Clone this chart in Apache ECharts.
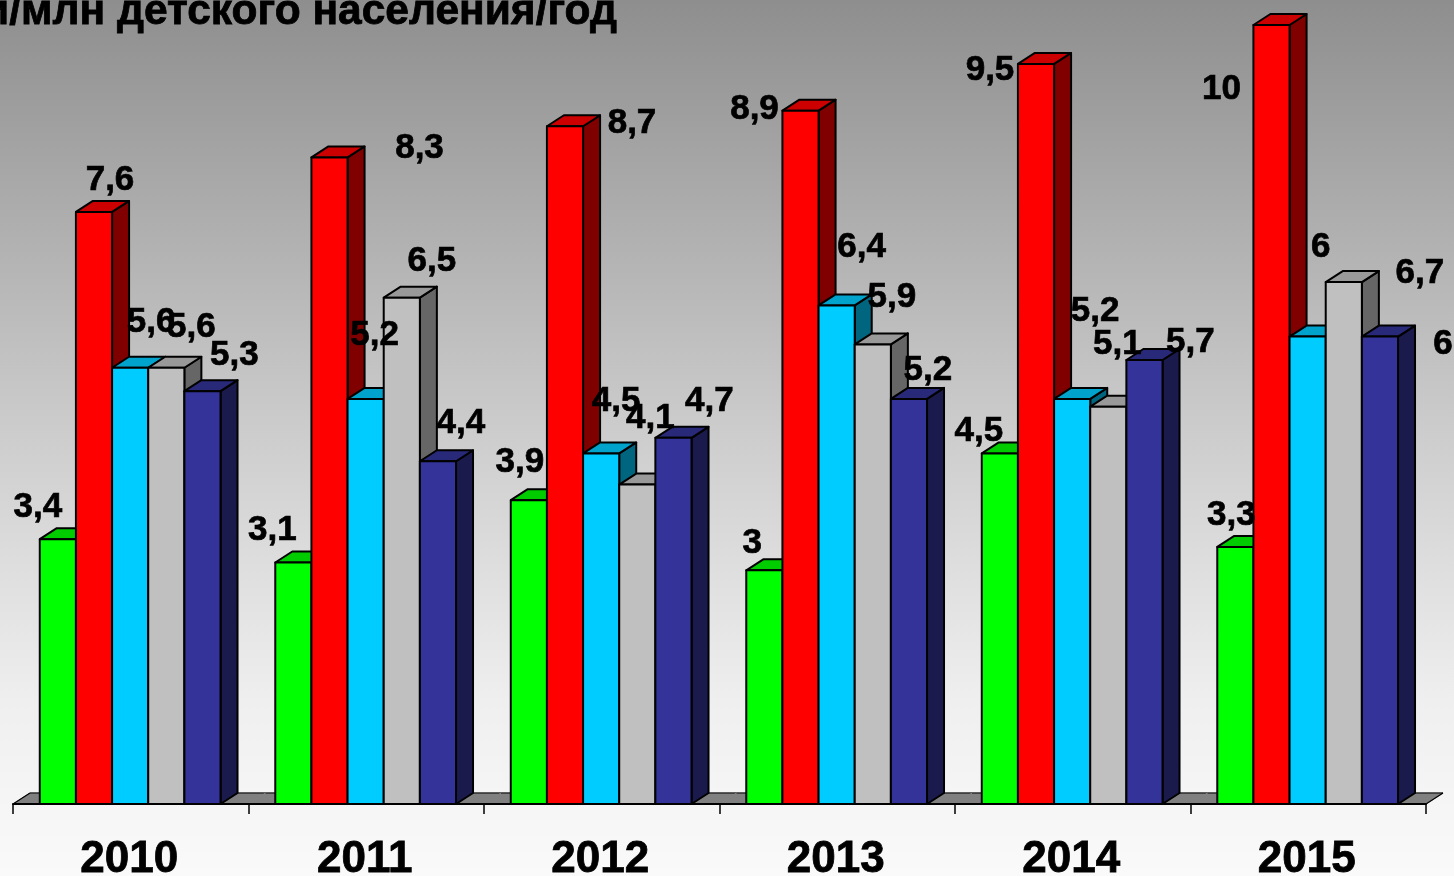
<!DOCTYPE html>
<html><head><meta charset="utf-8">
<style>html,body{margin:0;padding:0;overflow:hidden;background:#fff}#c{width:1454px;height:876px}</style>
<script src="https://cdn.jsdelivr.net/npm/echarts@6/dist/echarts.min.js"></script>
</head><body><div id="c"></div>
<script>
const categories = ['2010','2011','2012','2013','2014','2015'];
const greenValues = [3.4,3.1,3.9,3,4.5,3.3];
const redValues   = [7.6,8.3,8.7,8.9,9.5,10];
const cyanValues  = [5.6,5.2,4.5,6.4,5.2,6];
const grayValues  = [5.6,6.5,4.1,5.9,5.1,6.7];
const navyValues  = [5.3,4.4,4.7,5.2,5.7,6];
const titleText = 'случаи/млн детского населения/год';

const allValues = [greenValues,redValues,cyanValues,grayValues,navyValues];
const palettes = [
  {front:'#00ff00',top:'#00cc00',side:'#009900'},
  {front:'#ff0000',top:'#cc0000',side:'#800000'},
  {front:'#00ccff',top:'#00a3cc',side:'#006680'},
  {front:'#c0c0c0',top:'#999999',side:'#666666'},
  {front:'#333399',top:'#29297a',side:'#1a1a4d'}
];
// hand placement of each data label relative to its bar top: [dx, dy] by series then year
const labelShift = [
  [[-20,-32],[-21,-32],[-9,-38],[-12,-27],[-21,-22],[-4,-32]],
  [[16,-32],[90,-9],[67,-3],[-46,-1],[-46,6],[-50,64]],
  [[21,-45],[9,-64],[15,-52],[25,-58],[23,-88],[13,-89]],
  [[25,-40],[30,-36],[13,-66],[19,-47],[9,-62],[76,-9]],
  [[32,-36],[23,-38],[36,-37],[19,-29],[46,-18],[63,8]]
];
const DX = 17, DY = 11;
const BAR_RATIO = 0.1535;

function barGeom(api, s){
  const cat = api.value(0), v = api.value(1);
  const top = api.coord([cat, v]), base = api.coord([cat, 0]);
  const w = api.size([1,0])[0]*BAR_RATIO;
  const left = top[0] - 2.5*w + s*w - 0.6;
  return {left, w, yTop: top[1], yBase: base[1]};
}
function barSeries(s){
  const p = palettes[s];
  return {
    type:'custom', name:'s'+s, z:3, silent:true, animation:false, clip:false,
    data: allValues[s].map((v,i)=>[i,v]),
    encode:{x:0,y:1},
    renderItem(params, api){
      const g = barGeom(api,s);
      const L=g.left, R=g.left+g.w, T=g.yTop, B=g.yBase;
      const st = {stroke:'#000',lineWidth:2,lineJoin:'round'};
      return {type:'group',children:[
        {type:'polygon',shape:{points:[[R,T],[R+DX,T-DY],[R+DX,B-DY],[R,B]]},style:{...st,fill:p.side}},
        {type:'polygon',shape:{points:[[L,T],[L+DX,T-DY],[R+DX,T-DY],[R,T]]},style:{...st,fill:p.top}},
        {type:'rect',shape:{x:L,y:T,width:g.w,height:B-T},style:{...st,fill:p.front}}
      ]};
    }
  };
}
const floorSeries = {
  type:'custom', name:'floor', z:1, silent:true, animation:false, clip:false,
  data: categories.map((c,i)=>[i,0]),
  encode:{x:0,y:1},
  renderItem(params, api){
    const i = api.value(0);
    const p = api.coord([i,0]), band = api.size([1,0])[0];
    const x0=p[0]-band/2, x1=p[0]+band/2, y=p[1];
    const kids=[{type:'polygon',shape:{points:[[x0,y],[x0+DX,y-DY],[x1+DX,y-DY],[x1,y]]},style:{fill:'#808080',stroke:'#808080',lineWidth:1}},
      {type:'polyline',shape:{points:[[x0+DX,y-DY],[x1+DX,y-DY]]},style:{stroke:'#000',lineWidth:1.2,fill:null}}];
    if(i===0) kids.push({type:'polyline',shape:{points:[[x0,y],[x0+DX,y-DY]]},style:{stroke:'#000',lineWidth:1.2,fill:null}});
    if(i===categories.length-1) kids.push({type:'polyline',shape:{points:[[x1,y],[x1+DX,y-DY]]},style:{stroke:'#000',lineWidth:1.2,fill:null}});
    return {type:'group',children:kids};
  }
};
const labelData = [];
allValues.forEach((arr,s)=>arr.forEach((v,i)=>labelData.push([i,v,s])));
const labelSeries = {
  type:'custom', name:'labels', z:6, silent:true, animation:false, clip:false,
  data: labelData,
  encode:{x:0,y:1},
  renderItem(params, api){
    const s = api.value(2), cat = api.value(0);
    const g = barGeom(api,s);
    const sh = labelShift[s][cat];
    return {type:'text',x:g.left+g.w/2+sh[0],y:g.yTop+sh[1],
      style:{text:String(api.value(1)).replace('.',','),fill:'#000',stroke:'#000',lineWidth:0.7,
        font:'bold 35px "Liberation Sans", Arial, sans-serif',align:'center',verticalAlign:'middle'}};
  }
};
const chart = echarts.init(document.getElementById('c'),null,{renderer:'canvas'});
chart.setOption({
  animation:false,
  backgroundColor:{type:'linear',x:0,y:0,x2:0,y2:1,colorStops:[
    {offset:0,color:'#8e8e8e'},{offset:0.48,color:'#cbcbcb'},{offset:0.8,color:'#efefef'},{offset:1,color:'#fafafa'}]},
  title:{text:titleText,left:612,top:-14,textAlign:'right',
    textStyle:{fontFamily:'"Liberation Sans", Arial, sans-serif',fontWeight:'bold',fontSize:42.5,color:'#000',
      textBorderColor:'#000',textBorderWidth:0.8}},
  grid:{left:13,width:1413,top:25,bottom:72,containLabel:false,outerBoundsMode:'none'},
  xAxis:{type:'category',data:categories,boundaryGap:true,
    axisLine:{show:true,lineStyle:{color:'#000',width:2}},
    axisTick:{show:true,length:10,alignWithLabel:false,lineStyle:{color:'#000',width:1.5}},
    axisLabel:{show:true,interval:0,margin:34,padding:[0,3,0,0],color:'#000',fontWeight:'bold',fontSize:44,
      textBorderColor:'#000',textBorderWidth:0.8,
      fontFamily:'"Liberation Sans", Arial, sans-serif'},
    z:5},
  yAxis:{type:'value',min:0,max:10,show:false,splitLine:{show:false}},
  series:[floorSeries,barSeries(0),barSeries(1),barSeries(2),barSeries(3),barSeries(4),labelSeries]
});
</script></body></html>
